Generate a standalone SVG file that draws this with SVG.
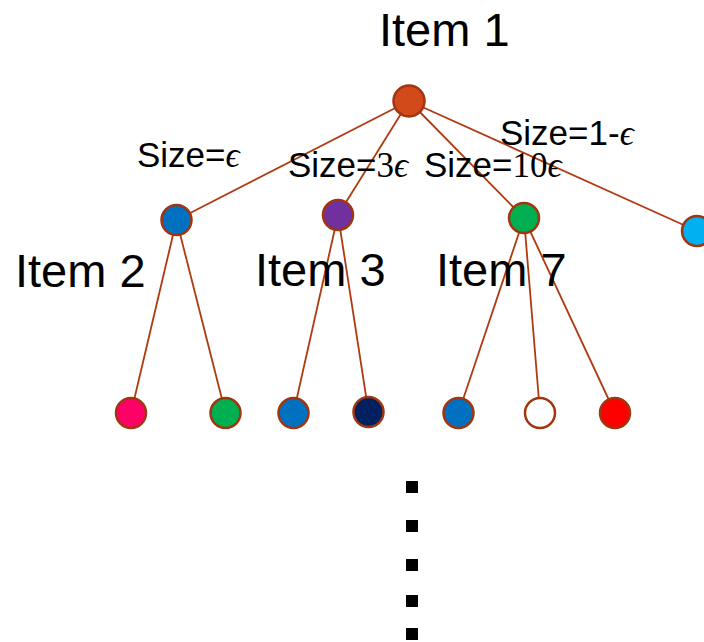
<svg xmlns="http://www.w3.org/2000/svg" width="704" height="642" viewBox="0 0 704 642">
<style>
.n{stroke:#a0350f;stroke-width:2.5}
.e{stroke:#b03a10;stroke-width:1.8;fill:none}
.t{font-family:"Liberation Sans",Arial,sans-serif;fill:#000}
.big{font-size:47px}
.lab{font-size:35px}
.m{font-family:"Liberation Serif","Times New Roman",serif}
.eps{font-family:"Liberation Serif","Times New Roman",serif;font-style:italic}
</style>
<rect width="704" height="642" fill="#fff"/>
<g id="connectors">
<line class="e" x1="409" y1="101" x2="176.5" y2="220"/>
<line class="e" x1="409" y1="101" x2="338" y2="215"/>
<line class="e" x1="409" y1="101" x2="524" y2="218"/>
<line class="e" x1="409" y1="101" x2="697" y2="231"/>
<line class="e" x1="176.5" y1="220" x2="131" y2="413"/>
<line class="e" x1="176.5" y1="220" x2="225.5" y2="413"/>
<line class="e" x1="338" y1="215" x2="293.5" y2="413"/>
<line class="e" x1="338" y1="215" x2="368.5" y2="412"/>
<line class="e" x1="524" y1="218" x2="458.5" y2="413"/>
<line class="e" x1="524" y1="218" x2="540" y2="413"/>
<line class="e" x1="524" y1="218" x2="615" y2="413"/>
</g>
<g id="root"><circle class="n" cx="409" cy="101" r="15.5" fill="#d24a1a"/></g>
<g id="item2"><circle class="n" cx="176.5" cy="220" r="15" fill="#0070c0"/></g>
<g id="item3"><circle class="n" cx="338" cy="215" r="15" fill="#7030a0"/></g>
<g id="item7"><circle class="n" cx="524" cy="218" r="15" fill="#00b050"/></g>
<g id="item4"><circle class="n" cx="697" cy="231" r="15" fill="#00b0f0"/></g>
<g id="leaf1"><circle class="n" cx="131" cy="413" r="15" fill="#ff0066"/></g>
<g id="leaf2"><circle class="n" cx="225.5" cy="413" r="15" fill="#00b050"/></g>
<g id="leaf3"><circle class="n" cx="293.5" cy="413" r="15" fill="#0070c0"/></g>
<g id="leaf4"><circle class="n" cx="368.5" cy="412" r="15" fill="#002060"/></g>
<g id="leaf5"><circle class="n" cx="458.5" cy="413" r="15" fill="#0070c0"/></g>
<g id="leaf6"><circle class="n" cx="540" cy="413" r="15" fill="#ffffff"/></g>
<g id="leaf7"><circle class="n" cx="615" cy="413" r="15" fill="#ff0000"/></g>
<g id="labels">
<text class="t big" x="379" y="46">Item 1</text>
<text class="t big" x="15" y="287">Item 2</text>
<text class="t big" x="255" y="286">Item 3</text>
<text class="t big" x="436" y="286">Item 7</text>
<text class="t lab" x="137" y="167">Size=<tspan class="eps">ϵ</tspan></text>
<text class="t lab" x="288" y="177">Size=<tspan class="m">3</tspan><tspan class="eps">ϵ</tspan></text>
<text class="t lab" x="424" y="177">Size=<tspan class="m">10</tspan><tspan class="eps">ϵ</tspan></text>
<text class="t lab" x="500" y="145">Size=1-<tspan class="eps">ϵ</tspan></text>
</g>
<g id="dots" fill="#000">
<rect x="406" y="481" width="12" height="12"/>
<rect x="406" y="520" width="12" height="12"/>
<rect x="406" y="559" width="12" height="12"/>
<rect x="406" y="595" width="12" height="12"/>
<rect x="406" y="628" width="12" height="12"/>
</g>
</svg>
